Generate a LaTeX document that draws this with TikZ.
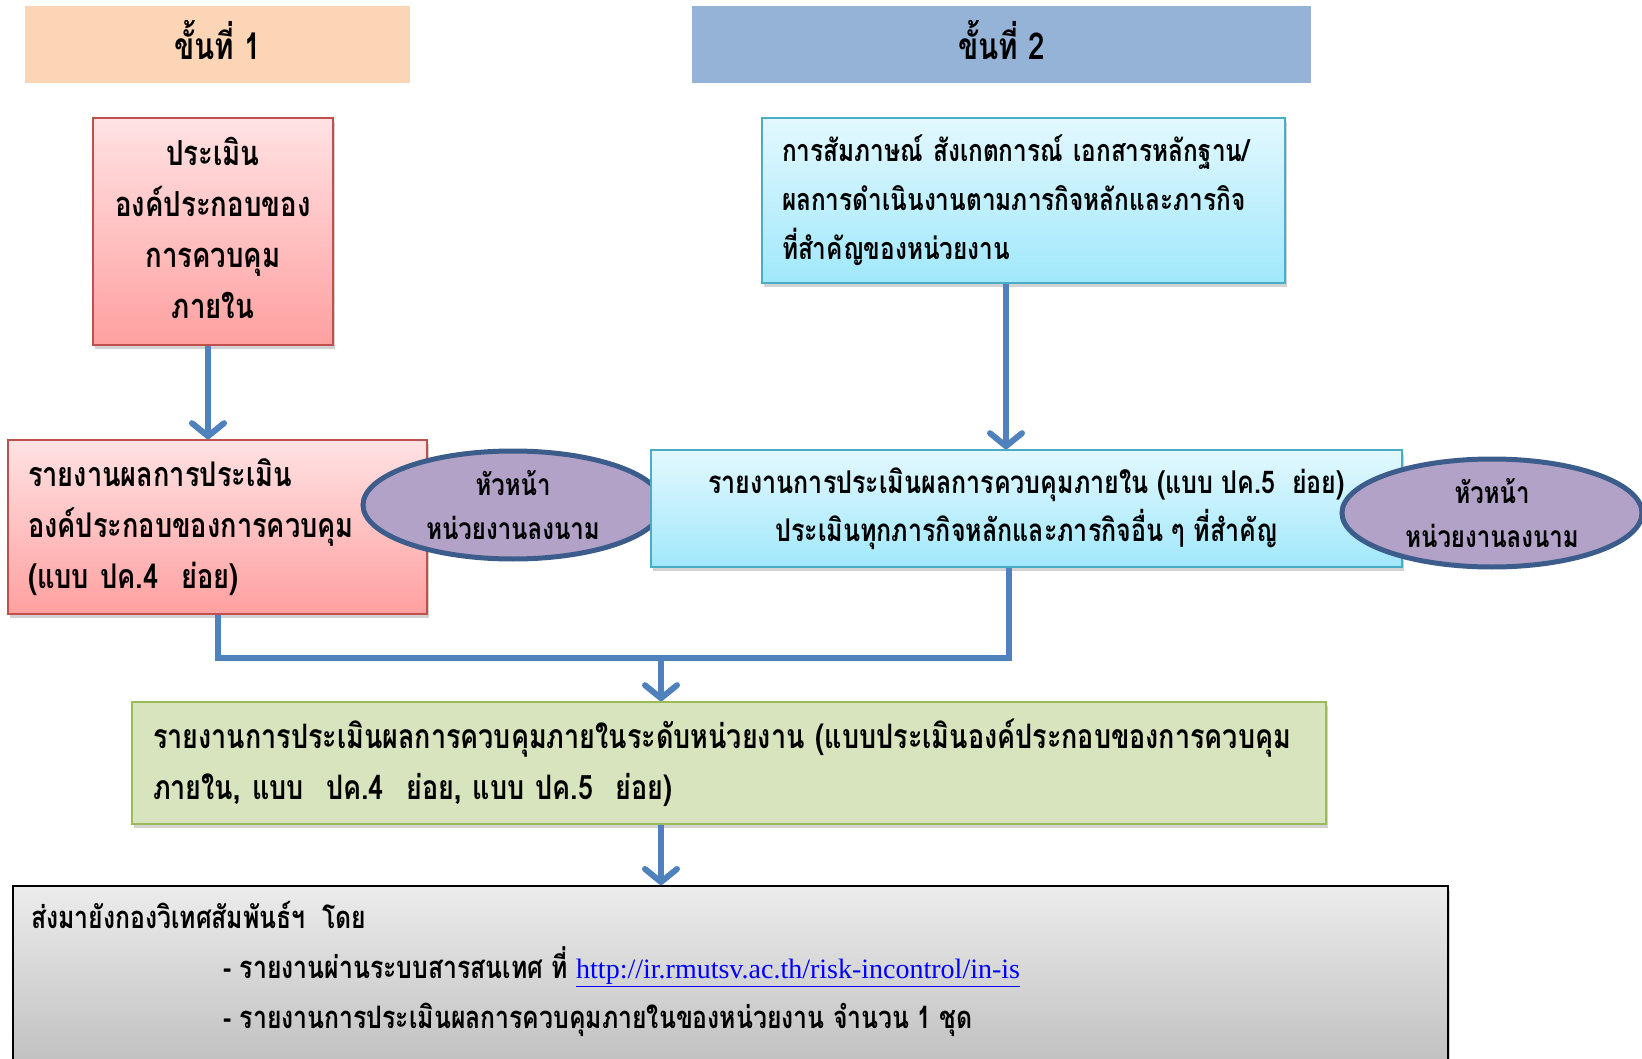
\documentclass[tikz,border=0pt]{standalone}
\usepackage{fontspec}
\usetikzlibrary{arrows.meta,shadows,shapes.geometric,calc}
\newfontfamily\thai[Script=Thai,FakeStretch=0.8]{Loma}
\newfontfamily\linkfont{Liberation Serif}
\definecolor{hdrone}{HTML}{FBD5B5}
\definecolor{hdrtwo}{HTML}{95B3D7}
\definecolor{pinktop}{HTML}{FFE2E3}
\definecolor{pinkbot}{HTML}{FFA0A0}
\definecolor{pinkline}{HTML}{C0504D}
\definecolor{cyantop}{HTML}{E3F8FE}
\definecolor{cyanbot}{HTML}{A0E8FB}
\definecolor{cyanline}{HTML}{4BACC6}
\definecolor{greenfill}{HTML}{D7E4BD}
\definecolor{greenline}{HTML}{9BBB59}
\definecolor{graytop}{HTML}{ECECEC}
\definecolor{graybot}{HTML}{BBBBBB}
\definecolor{ellfill}{HTML}{B2A2C7}
\definecolor{ellline}{HTML}{3C5D8B}
\definecolor{arrowblue}{HTML}{4F81BD}
\definecolor{linkblue}{HTML}{0000FF}
\tikzset{
  txt/.style={font=\thai\bfseries\fontsize{30}{51}\selectfont},
  box/.style={rectangle, draw, line width=1.6pt, inner sep=0pt, txt,
    drop shadow={opacity=0.35, shadow xshift=2pt, shadow yshift=-4pt}},
  pinkbox/.style={box, draw=pinkline, top color=pinktop, bottom color=pinkbot},
  cyanbox/.style={box, draw=cyanline, top color=cyantop, bottom color=cyanbot},
  greenbox/.style={box, draw=greenline, fill=greenfill},
  graybox/.style={box, draw=black, line width=2pt, top color=graytop, bottom color=graybot},
  hdr/.style={rectangle, inner sep=0pt, font=\thai\bfseries\fontsize{37}{40}\selectfont},
  sign/.style={ellipse, draw=ellline, line width=5pt, fill=ellfill, inner sep=0pt,
    minimum width=300pt, minimum height=108pt, align=center,
    font=\thai\bfseries\fontsize{30}{44}\selectfont},
  conn/.style={draw=arrowblue, line width=6pt},
  arr/.style={conn, -{Straight Barb[length=13pt, width=32pt, round]}}
}
\begin{document}
\begin{tikzpicture}[x=1pt,y=-1pt]
\useasboundingbox (0,0) rectangle (1642,1059);
% headers
\node[hdr, fill=hdrone, minimum width=385pt, minimum height=77pt] (h1) at (217.5,44.5) {\raisebox{9pt}{ขั้นที่ 1}};
\node[hdr, fill=hdrtwo, minimum width=619pt, minimum height=77pt] (h2) at (1001.5,44.5) {\raisebox{9pt}{ขั้นที่ 2}};
% step 1
\node[pinkbox, minimum width=240pt, minimum height=227pt, align=center, font=\thai\bfseries\fontsize{34.5}{51}\selectfont] (A) at (213,231.5)
  {\parbox{240pt}{\centering ประเมิน\\องค์ประกอบของ\\การควบคุม\\ภายใน\par\vspace{8pt}}};
\node[pinkbox, minimum width=419pt, minimum height=174pt, align=left, text width=379pt, font=\thai\bfseries\fontsize{34}{51}\selectfont] (B) at (217.5,527)
  {รายงานผลการประเมิน\\องค์ประกอบของการควบคุม\\(แบบ ปค.4~ ย่อย)};
\node[sign] (S1) at (513,505) {หัวหน้า\\หน่วยงานลงนาม};
% step 2
\node[cyanbox, minimum width=523pt, minimum height=165pt, align=left, text width=483pt, font=\thai\bfseries\fontsize{30.5}{49}\selectfont] (C) at (1023.5,200.5)
  {การสัมภาษณ์ สังเกตการณ์ เอกสารหลักฐาน/\\ผลการดำเนินงานตามภารกิจหลักและภารกิจ\\ที่สำคัญของหน่วยงาน};
\node[cyanbox, minimum width=751pt, minimum height=117pt, align=center, font=\thai\bfseries\fontsize{31.3}{48}\selectfont] (D) at (1026.5,508.5)
  {รายงานการประเมินผลการควบคุมภายใน (แบบ ปค.5~ ย่อย)\\ประเมินทุกภารกิจหลักและภารกิจอื่น ๆ ที่สำคัญ};
\node[sign] (S2) at (1492,513) {หัวหน้า\\หน่วยงานลงนาม};
% summary
\node[greenbox, minimum width=1194pt, minimum height=122pt, align=left, text width=1152pt, font=\thai\bfseries\fontsize{33.7}{51}\selectfont] (E) at (729,763)
  {รายงานการประเมินผลการควบคุมภายในระดับหน่วยงาน (แบบประเมินองค์ประกอบของการควบคุม\\ภายใน, แบบ~ ปค.4~ ย่อย, แบบ ปค.5~ ย่อย)};
\node[graybox, minimum width=1435pt, minimum height=200pt, anchor=north west] (F) at (12,885) {};
\node[anchor=north west, align=left, inner sep=0pt, font=\thai\bfseries\fontsize{31}{50}\selectfont] (Ft) at (31,901)
  {ส่งมายังกองวิเทศสัมพันธ์ฯ~ โดย\\
   \hspace*{192pt}- รายงานผ่านระบบสารสนเทศ ที่ {\linkfont\mdseries\fontsize{28}{50}\selectfont\color{linkblue}\underline{http://ir.rmutsv.ac.th/risk-incontrol/in-is}}\\
   \hspace*{192pt}- รายงานการประเมินผลการควบคุมภายในของหน่วยงาน จำนวน 1 ชุด};
% connectors
\draw[arr] ([xshift=-5pt]A.south) -- ([xshift=-5pt]A.south |- B.north);
\draw[arr] ([xshift=-17.5pt]C.south) -- ([xshift=-17.5pt]C.south |- D.north);
\coordinate (J) at (661,658);
\draw[conn] (B.south) |- (J) -| ([xshift=-17.5pt]D.south);
\draw[arr] (J) -- (J |- E.north);
\draw[arr] (J |- E.south) -- (J |- F.north);
\end{tikzpicture}
\end{document}
